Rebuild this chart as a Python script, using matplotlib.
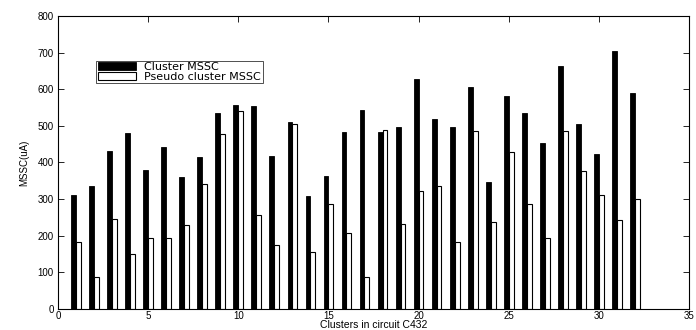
import matplotlib
matplotlib.use("Agg")
import matplotlib.pyplot as plt
import numpy as np

clusters = list(range(1, 33))
cluster_mssc = [310, 335, 432, 480, 380, 441, 361, 415, 536, 557, 555, 418, 510, 308, 364, 483,
                543, 483, 497, 628, 520, 496, 607, 346, 581, 534, 453, 663, 505, 422, 705, 590]
pseudo_mssc = [183, 87, 247, 151, 195, 195, 228, 342, 479, 541, 257, 175, 504, 157, 286, 207,
               87, 490, 231, 323, 337, 183, 487, 237, 430, 287, 193, 485, 377, 310, 243, 299]
xticks = [0, 5, 10, 15, 20, 25, 30, 35]
yticks = [0, 100, 200, 300, 400, 500, 600, 700, 800]

plt.rcParams['font.family'] = ['Liberation Sans', 'DejaVu Sans']

fig = plt.figure(figsize=(6.96, 3.30), dpi=100)
ax = fig.add_axes([0.0833, 0.0636, 0.9067, 0.888])

x = np.array(clusters)
w = 0.27
ax.bar(x - w / 2, cluster_mssc, width=w, color='black', edgecolor='black', linewidth=0.6,
       label='Cluster MSSC')
ax.bar(x + w / 2, pseudo_mssc, width=w, color='white', edgecolor='black', linewidth=0.8,
       label='Pseudo cluster MSSC')

ax.set_xlim(0, 35)
ax.set_ylim(0, 800)
ax.set_xticks(xticks)
ax.set_yticks(yticks)
ax.tick_params(direction='in', top=True, right=True, labelsize=7, length=4, width=0.6)
ax.tick_params(axis='x', pad=1.5)
ax.tick_params(axis='y', pad=3)
for s in ax.spines.values():
    s.set_linewidth(0.8)

ax.set_xlabel('Clusters in circuit C432', fontsize=7.5, labelpad=-1)
ax.set_ylabel('MSSC(uA)', fontsize=7, labelpad=6)

leg = ax.legend(loc='upper left', bbox_to_anchor=(0.061, 0.847),
                prop={'family': 'DejaVu Sans', 'size': 8.0}, frameon=True,
                fancybox=False, edgecolor='black', borderpad=0.12, labelspacing=-0.05,
                handlelength=3.4, handleheight=0.7, handletextpad=0.8, borderaxespad=0)
leg.get_frame().set_linewidth(0.6)

fig.savefig('out.png', dpi=100)
